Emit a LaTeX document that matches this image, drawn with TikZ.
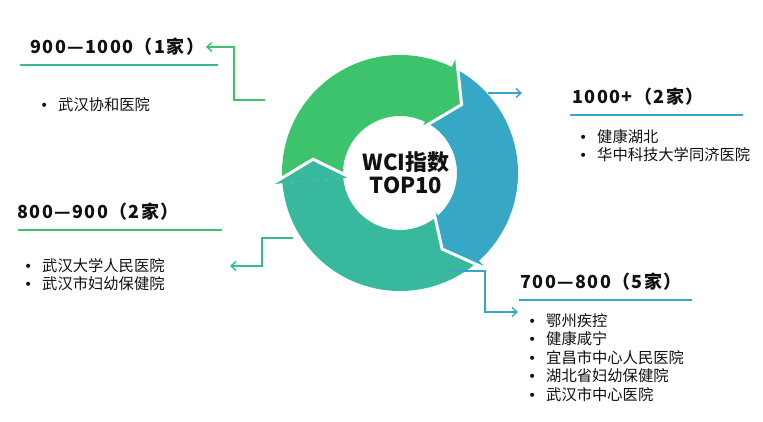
\documentclass[tikz,border=0pt]{standalone}
\usepackage{fontspec}
\setmainfont{Noto Sans CJK SC}
\newfontfamily\dotfont{DejaVu Sans}
\usepackage{xcolor}
\usetikzlibrary{arrows.meta,positioning}
\definecolor{grn}{HTML}{3CC36B}
\definecolor{blu}{HTML}{36A7C4}
\definecolor{tea}{HTML}{38B89D}
\definecolor{ink}{HTML}{111111}
\tikzset{
  band/.style={anchor=west, inner sep=1.5pt, text=ink,
    font=\fontsize{18}{20}\selectfont\bfseries\addfontfeature{LetterSpace=8}},
  items/.style={anchor=north west, inner sep=0pt, align=left, text=ink, font=\fontsize{15.3}{18.5}\selectfont},
  rule/.style={line width=2.5pt},
  link/.style={line width=1.4pt, -{Straight Barb[length=5pt,width=9pt]}},
  gap/.style={white, line width=3pt},
}
\newcommand{\bul}[1]{\makebox[18pt][l]{\dotfont\fontsize{14}{14}\selectfont•}#1}

\begin{document}
\begin{tikzpicture}[x=1pt,y=1pt]
  \useasboundingbox (0,0) rectangle (763,422);
  % ring of three arrows
  \begin{scope}[shift={(400,249)}]
    \foreach \a/\b/\c in {185/64/grn, 64/-48/blu, -48/-175/tea}
      \fill[\c] (\a:118) arc[start angle=\a, end angle=\b, radius=118pt]
        -- (\b:57) arc[start angle=\b, end angle=\a, radius=57pt] -- cycle;
    \foreach \b/\t/\r/\c in {64/48/92/grn, -48/-61/87/blu, -175/-189/88/tea} {
      \fill[\c] (\b:127) -- (\t:\r) -- (\b:52) -- cycle;
      \draw[gap] (\b:129) -- (\t:\r) -- (\b:50);
    }
  \end{scope}
  \node[font=\fontsize{22}{23}\selectfont\bfseries, text=ink, align=center] (core) at (406,249) {WCI指数\\TOP10};

  % 900-1000
  \node[band] (r1) at (28.5,375) {900—1000（1家）};
  \draw[rule, tea] (20,357) -- (218,357);
  \node[items] (l1) at (40,325) {\bul{武汉协和医院}};
  \coordinate (g0) at (265,322);
  \draw[link, grn] (g0) -- ++(-31,0) |- (r1.east);

  % 1000+
  \node[band] (r2) at (570.5,325) {1000+（2家）};
  \draw[rule, blu] (570,307) -- (743,307);
  \node[items] (l2) at (579,293) {\bul{健康湖北}\\\bul{华中科技大学同济医院}};
  \coordinate (b0) at (488,329);
  \coordinate (b1) at (522,329);
  \draw[link, blu] (b0) -- (b1);

  % 800-900
  \node[band] (r3) at (15.5,210) {800—900（2家）};
  \draw[rule, grn] (18,192) -- (222,192);
  \node[items] (l3) at (24,164) {\bul{武汉大学人民医院}\\\bul{武汉市妇幼保健院}};
  \coordinate (t0) at (293,184);
  \coordinate (t1) at (230,156);
  \draw[link, tea] (t0) -- ++(-31,0) |- (t1);

  % 700-800
  \node[band] (r4) at (518.5,140) {700—800（5家）};
  \draw[rule, blu] (519,122) -- (692,122);
  \node[items] (l4) at (528,109) {\bul{鄂州疾控}\\\bul{健康咸宁}\\\bul{宜昌市中心人民医院}\\\bul{湖北省妇幼保健院}\\\bul{武汉市中心医院}};
  \coordinate (b2) at (450,151);
  \coordinate (b3) at (518,110);
  \draw[link, blu] (b2) -- ++(35,0) |- (b3);
\end{tikzpicture}
\end{document}
